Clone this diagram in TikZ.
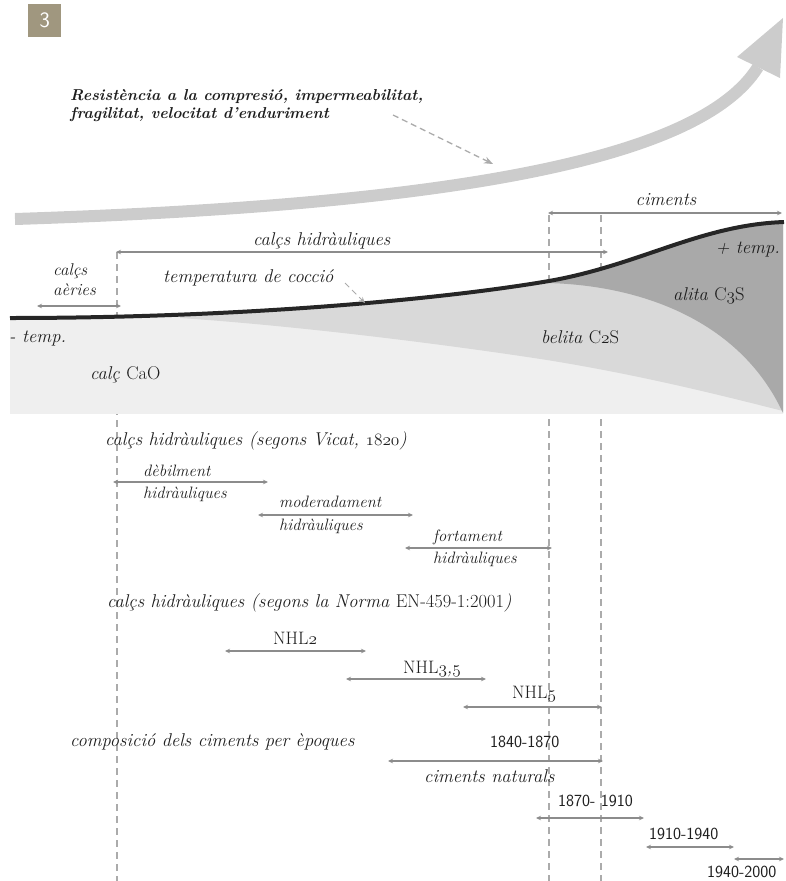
\documentclass[tikz,border=0pt]{standalone}
\usetikzlibrary{arrows.meta}
\definecolor{txt}{HTML}{1E1E1E}
\definecolor{arr}{HTML}{8C8C8C}
\definecolor{dsh}{HTML}{ABABAB}
\definecolor{big}{HTML}{CCCCCC}
\definecolor{lite}{HTML}{EFEFEF}
\definecolor{beli}{HTML}{D9D9D9}
\definecolor{alit}{HTML}{A9A9A9}
\definecolor{taupe}{HTML}{A0977F}
\definecolor{curv}{HTML}{262626}
\newcommand{\osn}[1]{{\usefont{OML}{cmm}{m}{it}#1}}
\tikzset{
  lbl/.style={font=\fontsize{18.5}{22}\selectfont\itshape, text=txt, inner sep=0pt, anchor=base west},
  slbl/.style={font=\fontsize{16.5}{20}\selectfont\itshape, text=txt, inner sep=0pt, anchor=base west},
  rlbl/.style={font=\fontsize{18}{22}\selectfont, text=txt, inner sep=0pt, anchor=base west},
  ttl/.style={font=\fontsize{15.8}{19}\selectfont\bfseries\itshape, text=txt, inner sep=0pt, anchor=base west},
  hand/.style={font=\fontsize{17}{20}\selectfont\sffamily, text=txt, inner sep=0pt, anchor=base west},
  rng/.style={draw=arr, line width=1.6pt, {Stealth[length=5pt,width=4.5pt]}-{Stealth[length=5pt,width=4.5pt]}},
  vdash/.style={draw=dsh, line width=1.5pt, dash pattern=on 7pt off 5pt},
  dasharr/.style={draw=dsh, line width=1.3pt, dash pattern=on 6pt off 4pt, -{Stealth[length=9pt,width=7pt]}},
}
\begin{document}
\begin{tikzpicture}[x=1pt,y=-1pt]
\useasboundingbox (0,0) rectangle (786,881);
% figure number
\node[fill=taupe, minimum width=33pt, minimum height=33pt, inner sep=0pt, anchor=north west,
      text=white, font=\fontsize{22}{22}\selectfont\sffamily] (num) at (28,4) {3};
% big grey arrow
\draw[big, line width=12pt] (15,219) .. controls (450,205) and (700,160) .. (758,67);
\fill[big] (783,18) -- (737,57) -- (780,78) -- cycle;
% title
\node[ttl] (t1) at (70,100) {Resistència a la compresió, impermeabilitat,};
\node[ttl] (t2) at (70,118) {fragilitat, velocitat d’enduriment};
\coordinate (ta1) at (393,115); \coordinate (ta2) at (493,164);
\draw[dasharr] (ta1) -- (ta2);
% dashed verticals
\coordinate (v1t) at (117,252); \coordinate (v1b) at (117,881);
\coordinate (v2t) at (549,215); \coordinate (v2b) at (549,881);
\coordinate (v3t) at (601,215); \coordinate (v3b) at (601,881);
\draw[vdash] (v1t) -- (v1b);
\draw[vdash] (v2t) -- (v2b);
\draw[vdash] (v3t) -- (v3b);
% fills
\begin{scope}
\clip (10,318) .. controls (250,318) and (450,298) .. (549,281) .. controls (640,265) and (700,225) .. (783,222) -- (783,414) -- (10,414) -- cycle;
\fill[lite] (0,200) rectangle (786,414);
\fill[beli] (180,318) .. controls (300,326) and (450,345) .. (547,360) .. controls (640,375) and (720,395) .. (783,411) -- (786,200) -- (180,200) -- cycle;
\fill[alit] (520,280) -- (547,283) .. controls (640,285) and (740,320) .. (783,413) -- (786,200) -- (520,200) -- cycle;
\end{scope}
\draw[curv, line width=4pt] (10,318) .. controls (250,318) and (450,298) .. (549,281) .. controls (640,265) and (700,225) .. (784,222);
% upper ranges
\coordinate (c1) at (548,213); \coordinate (c2) at (782,213);
\draw[rng] (c1) -- (c2);
\node[lbl, anchor=base] (cim) at (666,205) {ciments};
\coordinate (h1) at (116,252); \coordinate (h2) at (608,252);
\draw[rng] (h1) -- (h2);
\node[lbl] (hid) at (253,245) {calçs hidràuliques};
\coordinate (a1) at (37,306); \coordinate (a2) at (121,306);
\draw[rng] (a1) -- (a2);
\node[slbl, font=\fontsize{17}{20}\selectfont\itshape] (aer1) at (53,275) {calçs};
\node[slbl, font=\fontsize{17}{20}\selectfont\itshape] (aer2) at (53,295) {aèries};
\node[lbl] (tc) at (163,282) {temperatura de cocció};
\coordinate (tc1) at (345,283); \coordinate (tc2) at (365,303);
\draw[dasharr, line width=1pt, -{Stealth[length=6pt,width=5pt]}] (tc1) -- (tc2);
\node[lbl, anchor=base east] (ptemp) at (780,253) {+ temp.};
\node[lbl] (mtemp) at (9,342) {- temp.};
\node[lbl] (alita) at (673,300) {alita \upshape C\osn{3}S};
\node[lbl] (belita) at (541,343) {belita \upshape C\osn{2}S};
\node[lbl] (cao) at (90,379) {calç \upshape CaO};
% Vicat
\node[lbl] (vic) at (105,445) {calçs hidràuliques (segons Vicat, \osn{1820})};
\coordinate (d1) at (113,482); \coordinate (d2) at (268,482);
\draw[rng] (d1) -- (d2);
\node[slbl] (deb1) at (143,476) {dèbilment};
\node[slbl] (deb2) at (143,498) {hidràuliques};
\coordinate (m1) at (258,515); \coordinate (m2) at (413,515);
\draw[rng] (m1) -- (m2);
\node[slbl] (mod1) at (279,507) {moderadament};
\node[slbl] (mod2) at (279,530) {hidràuliques};
\coordinate (f1) at (405,548); \coordinate (f2) at (552,548);
\draw[rng] (f1) -- (f2);
\node[slbl] (fort1) at (433,541) {fortament};
\node[slbl] (fort2) at (433,563) {hidràuliques};
% Norma
\node[lbl] (norm) at (107,607) {calçs hidràuliques (segons la Norma \upshape EN-459-1:2001\itshape)};
\coordinate (n21) at (225,651); \coordinate (n22) at (366,651);
\draw[rng] (n21) -- (n22);
\node[rlbl] (nhl2) at (273,644) {NHL\osn{2}};
\coordinate (n31) at (346,679); \coordinate (n32) at (486,679);
\draw[rng] (n31) -- (n32);
\node[rlbl] (nhl3) at (403,673) {NHL\osn{3}\textit{,}\osn{5}};
\coordinate (n51) at (463,707); \coordinate (n52) at (602,707);
\draw[rng] (n51) -- (n52);
\node[rlbl] (nhl5) at (512,698) {NHL\osn{5}};
% epoques
\node[lbl] (comp) at (70,746) {composició dels ciments per èpoques};
\coordinate (e11) at (388,761); \coordinate (e12) at (603,761);
\draw[rng] (e11) -- (e12);
\node[hand] (y1) at (490,747) {1840-1870};
\node[lbl] (nat) at (424,782) {ciments naturals};
\coordinate (e21) at (536,818); \coordinate (e22) at (644,818);
\draw[rng] (e21) -- (e22);
\node[hand] (y2) at (558,806) {1870- 1910};
\coordinate (e31) at (646,847); \coordinate (e32) at (734,847);
\draw[rng] (e31) -- (e32);
\node[hand] (y3) at (649,839) {1910-1940};
\coordinate (e41) at (734,859); \coordinate (e42) at (784,859);
\draw[rng] (e41) -- (e42);
\node[hand] (y4) at (707,877) {1940-2000};
\end{tikzpicture}
\end{document}
